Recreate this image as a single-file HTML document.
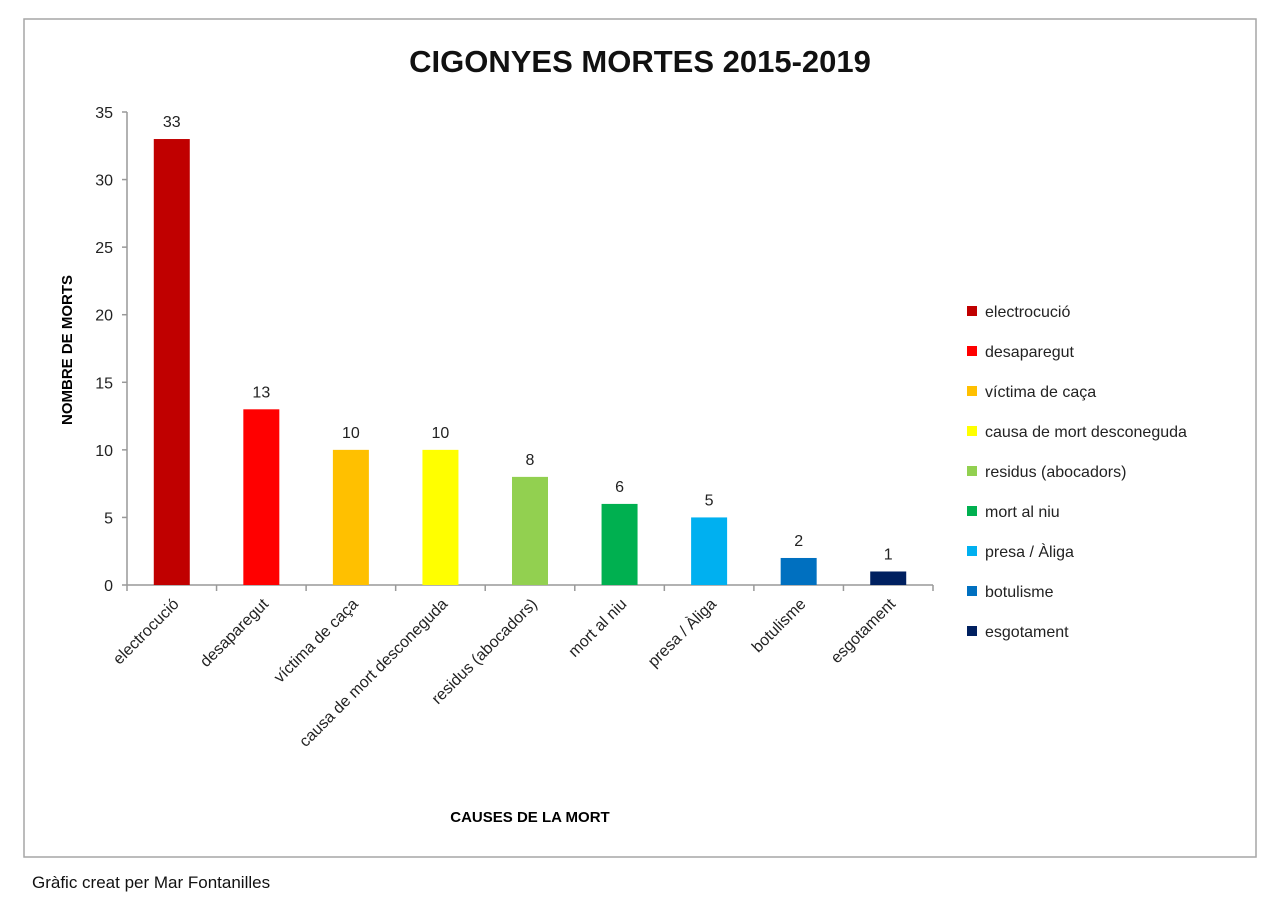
<!DOCTYPE html>
<html><head><meta charset="utf-8"><style>
body{margin:0;background:#fff;}
text{font-family:"Liberation Sans",sans-serif;}
</style></head><body>
<svg width="1285" height="901">
<rect x="24" y="19" width="1232" height="838" fill="#fff" stroke="#a6a6a6" stroke-width="1.5"/>
<text x="640" y="72" text-anchor="middle" font-size="31" font-weight="bold" fill="#111">CIGONYES MORTES 2015-2019</text>
<text transform="translate(72,350) rotate(-90)" text-anchor="middle" font-size="15" font-weight="bold">NOMBRE DE MORTS</text>
<text x="530" y="822" text-anchor="middle" font-size="15" font-weight="bold">CAUSES DE LA MORT</text>
<g id="plot"></g>
<g id="legend"></g>
<text x="32" y="888" font-size="17" fill="#111">Gràfic creat per Mar Fontanilles</text>
</svg>
<script>
const categories=["electrocució","desaparegut","víctima de caça","causa de mort desconeguda","residus (abocadors)","mort al niu","presa / Àliga","botulisme","esgotament"];
const values=[33,13,10,10,8,6,5,2,1];
const colors=["#C00000","#FF0000","#FFC000","#FFFF00","#92D050","#00B050","#00B0F0","#0070C0","#002060"];
const yTicks=[0,5,10,15,20,25,30,35];
const NS="http://www.w3.org/2000/svg";
const x0=127,x1=933,y0=585,y1=112,yMax=35;
const bw=(x1-x0)/categories.length;
const X=i=>x0+bw*(i+0.5);
const Y=v=>y0-(v/yMax)*(y0-y1);
const plot=document.getElementById('plot');
function mk(t,a,p){const e=document.createElementNS(NS,t);for(const k in a)e.setAttribute(k,a[k]);(p||plot).appendChild(e);return e;}
let ax=mk('line',{x1:x0,y1:y1,x2:x0,y2:y0,stroke:'#999','stroke-width':1.5});


yTicks.forEach(t=>{
 mk('line',{x1:x0-5,x2:x0,y1:Y(t),y2:Y(t),stroke:'#999','stroke-width':1.5});
 const tx=mk('text',{x:x0-14,y:Y(t)+6,'text-anchor':'end','font-size':16,fill:'#222'});
 tx.textContent=t;
 
 
});
let xa=mk('line',{x1:x0,y1:y0,x2:x1,y2:y0,stroke:'#999','stroke-width':1.5});


for(let i=0;i<=categories.length;i++)mk('line',{x1:x0+bw*i,x2:x0+bw*i,y1:y0,y2:y0+6,stroke:'#999','stroke-width':1.5});
categories.forEach((c,i)=>{
 const b=mk('rect',{x:X(i)-18,y:Y(values[i]),width:36,height:y0-Y(values[i]),fill:colors[i]});
 
 
 const v=mk('text',{x:X(i),y:Y(values[i])-12,'text-anchor':'middle','font-size':16,fill:'#222'});
 v.textContent=values[i];
 
 
 const l=mk('text',{transform:`translate(${X(i)+8},${y0+20}) rotate(-45)`,'text-anchor':'end','font-size':16,fill:'#222'});
 l.textContent=c;
 
 
});
const lg=document.getElementById('legend');
categories.forEach((c,i)=>{
 const y=311+i*40;
 const g=mk('g',{},lg);
 
 
 mk('rect',{x:967,y:y-5,width:10,height:10,fill:colors[i]},g);
 const t=mk('text',{x:985,y:y+6,'font-size':16,fill:'#222'},g);
 t.textContent=c;
});
</script>
</body></html>
